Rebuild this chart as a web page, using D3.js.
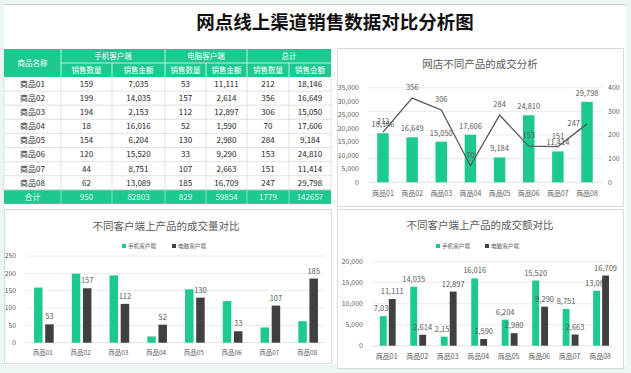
<!DOCTYPE html>
<html><head><meta charset="utf-8">
<script src="https://cdn.jsdelivr.net/npm/d3@7/dist/d3.min.js"></script>
<style>
html,body{margin:0;padding:0;background:#ecf7f1;}
svg{display:block;font-family:"Noto Sans CJK SC","Noto Sans",sans-serif;}
</style></head>
<body>
<svg id="c" width="631" height="373"></svg>
<script>
// ---------- data ----------
const categories = ["商品01","商品02","商品03","商品04","商品05","商品06","商品07","商品08"];
const mobileQty = [159,199,194,18,154,120,44,62];
const mobileAmt = [7035,14035,2153,16016,6204,15520,8751,13089];
const pcQty = [53,157,112,52,130,33,107,185];
const pcAmt = [11111,2614,12897,1590,2980,9290,2663,16709];
const totalQty = [212,356,306,70,284,153,151,247];
const totalAmt = [18146,16649,15050,17606,9184,24810,11414,29798];
const seriesNames = ["手机客户端","电脑客户端"];
const leftTicksTR = [0,5000,10000,15000,20000,25000,30000,35000];
const rightTicksTR = [0,100,200,300,400];
const qtyTicks = [0,50,100,150,200,250];
const amtTicks = [0,5000,10000,15000,20000];

const GREEN = "#1ec991", DARK = "#404040", GRID = "#e4e4e4", AX = "#595959", BORDER = "#d9d9d9";
const svg = d3.select("#c");
const fmt = d3.format(",");

// sheet
svg.append("rect").attr("x",4).attr("y",4).attr("width",622).attr("height",361).attr("fill","#fff");
svg.append("line").attr("x1",4).attr("x2",626).attr("y1",4.5).attr("y2",4.5).attr("stroke","#c9d3ce");

svg.append("text").attr("x",335).attr("y",29).attr("text-anchor","middle")
  .attr("font-size",18.5).attr("font-weight","bold").attr("fill","#111").text("网点线上渠道销售数据对比分析图");

// ---------- table ----------
(function(){
  const cols = [4,61,112,165,206,247,289,331];
  const yTop = 49, h1 = 63, h2 = 77, rh = 14.1;
  const g = svg.append("g");
  g.append("rect").attr("x",4).attr("y",yTop).attr("width",327).attr("height",h2-yTop).attr("fill",GREEN);
  const rowsY = categories.map((c,i)=>h2+i*rh);
  const totalY = h2+categories.length*rh;
  g.append("rect").attr("x",4).attr("y",totalY).attr("width",327).attr("height",rh).attr("fill",GREEN);
  // grid lines data rows
  rowsY.forEach((y,i)=>{
    g.append("line").attr("x1",4).attr("x2",331).attr("y1",y+rh).attr("y2",y+rh).attr("stroke",BORDER).attr("stroke-width",0.8);
  });
  cols.forEach(x=>{
    g.append("line").attr("x1",x).attr("x2",x).attr("y1",h2).attr("y2",totalY).attr("stroke",BORDER).attr("stroke-width",0.8);
  });
  // header white separators
  [61,165,247].forEach(x=>g.append("line").attr("x1",x).attr("x2",x).attr("y1",yTop).attr("y2",h2).attr("stroke","#fff").attr("stroke-opacity",0.7));
  [112,206,289].forEach(x=>g.append("line").attr("x1",x).attr("x2",x).attr("y1",h1).attr("y2",h2).attr("stroke","#fff").attr("stroke-opacity",0.7));
  g.append("line").attr("x1",61).attr("x2",331).attr("y1",h1).attr("y2",h1).attr("stroke","#fff").attr("stroke-opacity",0.7);
  cols.slice(1,-1).forEach(x=>g.append("line").attr("x1",x).attr("x2",x).attr("y1",totalY).attr("y2",totalY+rh).attr("stroke","#fff").attr("stroke-opacity",0.45));
  const mid = (a,b)=>(a+b)/2;
  const tx = (x,y,t,opt={})=>g.append("text").attr("x",x).attr("y",y).attr("dy","0.36em").attr("text-anchor","middle")
      .attr("font-size",opt.fs||8).attr("fill",opt.fill||"#262626").text(t);
  tx(mid(4,61),mid(yTop,h2),"商品名称",{fill:"#fff",fs:7.5});
  ["手机客户端","电脑客户端","总计"].forEach((t,i)=>tx(mid(cols[1+2*i],cols[3+2*i]),mid(yTop,h1),t,{fill:"#fff",fs:7.5}));
  for(let i=0;i<6;i++) tx(mid(cols[1+i],cols[2+i]),mid(h1,h2),i%2===0?"销售数量":"销售金额",{fill:"#fff",fs:7.5});
  const colsData = [mobileQty,mobileAmt,pcQty,pcAmt,totalQty,totalAmt];
  categories.forEach((c,i)=>{
    tx(mid(4,61),rowsY[i]+rh/2,c);
    colsData.forEach((arr,j)=>tx(mid(cols[1+j],cols[2+j]),rowsY[i]+rh/2,fmt(arr[i])));
  });
  tx(mid(4,61),totalY+rh/2,"合计",{fill:"#e6faf2"});
  colsData.forEach((arr,j)=>tx(mid(cols[1+j],cols[2+j]),totalY+rh/2,String(d3.sum(arr)),{fill:"#e6faf2"}));
})();

// ---------- panels ----------
function panel(x,y,w,h){
  svg.append("rect").attr("x",x+0.5).attr("y",y+0.5).attr("width",w).attr("height",h).attr("fill","#fff").attr("stroke",BORDER);
}
panel(337,48,286,158);
panel(4,209,327,154);
panel(337,209,286,159);

// ---------- top-right combo ----------
(function(){
  const g = svg.append("g");
  const x = d3.scaleBand().domain(categories).range([368.4,601.6]);
  const yL = d3.scaleLinear().domain([0,35000]).range([182.3,87.7]);
  const yR = d3.scaleLinear().domain([0,400]).range([182.3,87.7]);
  g.append("text").attr("x",480).attr("y",68).attr("text-anchor","middle").attr("font-size",10.5).attr("fill",AX).text("网店不同产品的成交分析");
  rightTicksTR.forEach(t=>g.append("line").attr("x1",368).attr("x2",602).attr("y1",yR(t)).attr("y2",yR(t)).attr("stroke",t===0?BORDER:GRID).attr("stroke-width",0.8));
  g.selectAll(".yl").data(leftTicksTR).join("text").attr("x",359).attr("y",d=>yL(d)).attr("dy","0.35em")
    .attr("text-anchor","end").attr("font-size",7).attr("fill",AX).text(d=>fmt(d));
  g.selectAll(".yr").data(rightTicksTR).join("text").attr("x",608).attr("y",d=>yR(d)).attr("dy","0.35em")
    .attr("text-anchor","start").attr("font-size",7).attr("fill",AX).text(d=>d);
  const bw = 11.5;
  g.selectAll(".bar").data(totalAmt).join("rect")
    .attr("x",(d,i)=>x(categories[i])+x.bandwidth()/2-bw/2).attr("width",bw)
    .attr("y",d=>yL(d)).attr("height",d=>yL(0)-yL(d)).attr("fill",GREEN);
  g.selectAll(".bl").data(totalAmt).join("text")
    .attr("x",(d,i)=>x(categories[i])+x.bandwidth()/2).attr("y",d=>yL(d)-6)
    .attr("text-anchor","middle").attr("font-size",7.5).attr("fill",AX).text(d=>fmt(d));
  const line = d3.line().x((d,i)=>x(categories[i])+x.bandwidth()/2).y(d=>yR(d));
  g.append("path").attr("d",line(totalQty)).attr("fill","none").attr("stroke",AX).attr("stroke-width",1.3);
  g.selectAll(".ll").data(totalQty).join("text")
    .attr("x",(d,i)=>x(categories[i])+x.bandwidth()/2 + (i===totalQty.length-1?-7:0))
    .attr("y",(d,i)=>i===totalQty.length-1?yR(d)+2.5:yR(d)-8)
    .attr("text-anchor",(d,i)=>i===totalQty.length-1?"end":"middle")
    .attr("font-size",7.5).attr("fill",AX).text(d=>d);
  g.selectAll(".xl").data(categories).join("text").attr("x",d=>x(d)+x.bandwidth()/2).attr("y",194).attr("dy","0.35em")
    .attr("text-anchor","middle").attr("font-size",7).attr("fill",AX).text(d=>d);
})();

// ---------- grouped charts ----------
function grouped(opt){
  const g = svg.append("g");
  const x = d3.scaleBand().domain(categories).range(opt.xr);
  const y = d3.scaleLinear().domain([0,opt.ticks[opt.ticks.length-1]]).range(opt.yr);
  g.append("text").attr("x",opt.tx).attr("y",opt.ty).attr("text-anchor","middle").attr("font-size",10.5).attr("fill",AX).text(opt.title);
  // legend
  [GREEN,DARK].forEach((c,i)=>{
    g.append("rect").attr("x",opt.lx[i]).attr("y",opt.ly-2).attr("width",4).attr("height",4).attr("fill",c);
    g.append("text").attr("x",opt.lx[i]+6).attr("y",opt.ly).attr("dy","0.35em").attr("font-size",5.6).attr("fill",AX).text(seriesNames[i]);
  });
  opt.ticks.forEach(t=>g.append("line").attr("x1",opt.gx[0]).attr("x2",opt.gx[1]).attr("y1",y(t)).attr("y2",y(t)).attr("stroke",t===0?BORDER:GRID).attr("stroke-width",0.8));
  g.selectAll(".yl").data(opt.ticks).join("text").attr("x",opt.yx).attr("y",d=>y(d)).attr("dy","0.35em")
    .attr("text-anchor","end").attr("font-size",opt.afs).attr("fill",AX).text(d=>fmt(d));
  const bw = x.bandwidth()*0.225, gap = x.bandwidth()*0.07;
  const cx = i=>x(categories[i])+x.bandwidth()/2 + opt.shift;
  g.selectAll(".b0").data(opt.s0).join("rect").attr("x",(d,i)=>cx(i)-gap/2-bw).attr("width",bw)
    .attr("y",d=>y(d)).attr("height",d=>y(0)-y(d)).attr("fill",GREEN);
  if(opt.label0){
    g.selectAll(".l0").data(opt.s0).join("text").attr("x",(d,i)=>cx(i)-gap/2-bw/2).attr("y",d=>y(d)-5)
      .attr("text-anchor","middle").attr("font-size",7.5).attr("fill",AX).text(d=>fmt(d));
  }
  g.selectAll(".b1").data(opt.s1).join("rect").attr("x",(d,i)=>cx(i)+gap/2).attr("width",bw)
    .attr("y",d=>y(d)).attr("height",d=>y(0)-y(d)).attr("fill",DARK);
  g.selectAll(".l1").data(opt.s1).join("text").attr("x",(d,i)=>cx(i)+gap/2+bw/2).attr("y",d=>y(d)-5)
    .attr("text-anchor","middle").attr("font-size",7.5).attr("fill",AX).text(d=>fmt(d));
  g.selectAll(".xl").data(categories).join("text").attr("x",d=>x(d)+x.bandwidth()/2).attr("y",opt.xly).attr("dy","0.35em")
    .attr("text-anchor","middle").attr("font-size",opt.cfs).attr("fill",AX).text(d=>d);
}
grouped({title:"不同客户端上产品的成交量对比",tx:166,ty:230,lx:[122,172],ly:246,
  xr:[24,326],yr:[342.7,256],gx:[26,325],yx:16,ticks:qtyTicks,s0:mobileQty,s1:pcQty,label0:false,
  xly:353,afs:6.8,cfs:6.5,shift:1});
grouped({title:"不同客户端上产品的成交额对比",tx:480,ty:229,lx:[436,485],ly:246,
  xr:[371.5,615.3],yr:[345.7,261.7],gx:[372,613],yx:363,ticks:amtTicks,s0:mobileAmt,s1:pcAmt,label0:true,
  xly:357,afs:7,cfs:7,shift:1});
</script>
</body></html>
